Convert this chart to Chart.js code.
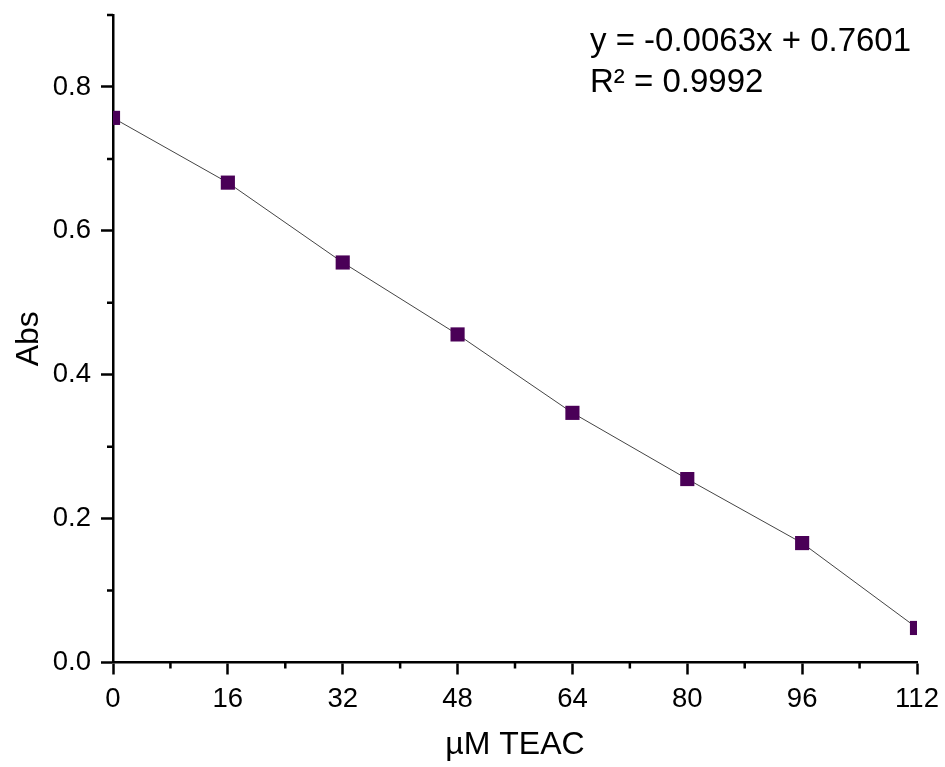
<!DOCTYPE html>
<html>
<head>
<meta charset="utf-8">
<script src="https://cdn.jsdelivr.net/npm/chart.js@4/dist/chart.umd.min.js"></script>
<style>
  html, body { margin: 0; padding: 0; background: #ffffff; }
  #wrap { position: relative; width: 945px; height: 767px; }
</style>
</head>
<body>
<div id="wrap"><canvas id="c" width="945" height="767"></canvas></div>
<script>
// Data
const concentrations = [0, 16, 32, 48, 64, 80, 96, 112];          // µM TEAC
const absorbance = [0.757, 0.667, 0.556, 0.456, 0.347, 0.255, 0.166, 0.048];
const xMajorTicks = [0, 16, 32, 48, 64, 80, 96, 112];
const xMinorTicks = [8, 24, 40, 56, 72, 88, 104];
const yMajorTicks = [0.0, 0.2, 0.4, 0.6, 0.8];
const yMinorTicks = [0.1, 0.3, 0.5, 0.7, 0.9];
const equationLines = ['y = -0.0063x + 0.7601', 'R\u00B2 = 0.9992'];
const xTitle = '\u00B5M TEAC';
const yTitle = 'Abs';

const FONT = "'Liberation Sans', Arial, sans-serif";
const AXIS_W = 2.5;

const minorTickPlugin = {
  id: 'minorTicks',
  afterDraw(chart) {
    const ctx = chart.ctx;
    const xs = chart.scales.x, ys = chart.scales.y;
    const area = chart.chartArea;
    ctx.save();
    ctx.strokeStyle = '#000';
    ctx.lineWidth = AXIS_W;
    ctx.beginPath();
    xMinorTicks.forEach(v => {
      const px = xs.getPixelForValue(v);
      ctx.moveTo(px, area.bottom);
      ctx.lineTo(px, area.bottom + 6);
    });
    yMinorTicks.forEach(v => {
      const py = ys.getPixelForValue(v);
      ctx.moveTo(area.left, py);
      ctx.lineTo(area.left - 6, py);
    });
    ctx.stroke();
    ctx.restore();
  }
};

const equationPlugin = {
  id: 'equation',
  afterDraw(chart) {
    const ctx = chart.ctx;
    ctx.save();
    ctx.fillStyle = '#000';
    ctx.font = '33px ' + FONT;
    ctx.textAlign = 'left';
    ctx.textBaseline = 'alphabetic';
    ctx.fillText(equationLines[0], 590, 51);
    ctx.fillText(equationLines[1], 590, 92);
    ctx.restore();
  }
};

new Chart(document.getElementById('c'), {
  type: 'line',
  data: {
    labels: concentrations,
    datasets: [{
      data: concentrations.map((x, i) => ({ x: x, y: absorbance[i] })),
      borderColor: '#444444',
      borderWidth: 1,
      pointStyle: 'rect',
      pointRadius: 10,
      pointBorderWidth: 0,
      pointBackgroundColor: '#4a0057',
      pointBorderColor: '#4a0057',
      tension: 0,
      fill: false,
      clip: { left: 0, right: 0, top: false, bottom: false }
    }]
  },
  options: {
    responsive: false,
    animation: false,
    devicePixelRatio: 1,
    layout: { padding: { top: 15, right: 28, left: 0, bottom: 0 } },
    plugins: {
      legend: { display: false },
      tooltip: { enabled: false }
    },
    scales: {
      x: {
        type: 'linear',
        min: 0,
        max: 112,
        afterFit(scale) { scale.height = 104.5; scale.paddingLeft = 0; scale.paddingRight = 0; },
        afterBuildTicks(scale) { scale.ticks = xMajorTicks.map(v => ({ value: v })); },
        ticks: {
          color: '#000',
          font: { family: FONT, size: 27.5 },
          padding: 8,
          maxRotation: 0,
          autoSkip: false,
          callback: v => String(v)
        },
        grid: {
          drawOnChartArea: false,
          drawTicks: true,
          tickLength: 12,
          tickColor: '#000',
          tickWidth: AXIS_W
        },
        border: { display: true, color: '#000', width: AXIS_W },
        title: {
          display: true,
          text: xTitle,
          color: '#000',
          font: { family: FONT, size: 32 },
          padding: { top: 0, bottom: 3 }
        }
      },
      y: {
        type: 'linear',
        min: 0,
        max: 0.9,
        afterFit(scale) { scale.width = 113; scale.paddingTop = 0; scale.paddingBottom = 0; },
        afterBuildTicks(scale) { scale.ticks = yMajorTicks.map(v => ({ value: v })); },
        ticks: {
          color: '#000',
          font: { family: FONT, size: 27.5 },
          padding: 10,
          autoSkip: false,
          callback: v => Number(v).toFixed(1)
        },
        grid: {
          drawOnChartArea: false,
          drawTicks: true,
          tickLength: 12,
          tickColor: '#000',
          tickWidth: AXIS_W
        },
        border: { display: true, color: '#000', width: AXIS_W },
        title: {
          display: true,
          text: yTitle,
          color: '#000',
          font: { family: FONT, size: 32 },
          padding: { top: 10, bottom: 0 }
        }
      }
    }
  },
  plugins: [minorTickPlugin, equationPlugin]
});
</script>
</body>
</html>
